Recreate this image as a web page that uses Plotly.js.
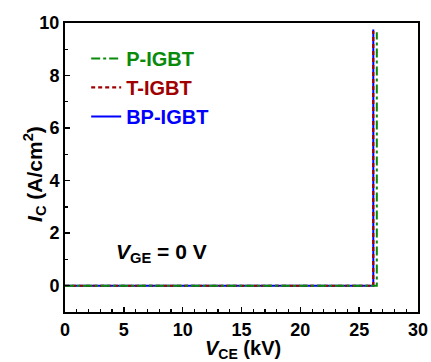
<!DOCTYPE html>
<html>
<head>
<meta charset="utf-8">
<script src="https://cdn.plot.ly/plotly-3.0.1.min.js"></script>
<style>html,body{margin:0;padding:0;background:#fff;}#chart{width:431px;height:362px;}</style>
</head>
<body>
<div id="chart"></div>
<script>
// Data (V_CE in kV, I_C in A/cm^2)
const seriesNames = ['P-IGBT', 'T-IGBT', 'BP-IGBT'];
const pVce = [0, 26.5, 26.5];
const pIc  = [0, 0, 9.65];
const tVce = [0, 26.2, 26.2];
const tIc  = [0, 0, 9.7];
const bpVce = [0, 26.2, 26.2];
const bpIc  = [0, 0, 9.75];
const xTicks = [0, 5, 10, 15, 20, 25, 30];
const yTicks = [0, 2, 4, 6, 8, 10];

const cGreen = '#0a8a0a', cRed = '#a00000', cBlue = '#0000ff';
const fam = 'Arial, Liberation Sans, sans-serif';
const font = {family: fam, size: 18, color: '#000', weight: 'bold'};
const bigFont = {family: fam, size: 21, color: '#000', weight: 'bold'};
const xTitleFont = {family: fam, size: 20, color: '#000', weight: 'bold'};

function legendName(i, c) { return '<b><span style="color:' + c + '">' + seriesNames[i] + '</span></b>'; }

const traces = [
  {x: bpVce, y: bpIc, mode: 'lines', name: legendName(2, cBlue),
   line: {color: cBlue, width: 2}, legendrank: 3},
  {x: tVce, y: tIc, mode: 'lines', name: legendName(1, cRed),
   line: {color: cRed, width: 2.2, dash: '4px,3px'}, legendrank: 2},
  {x: pVce, y: pIc, mode: 'lines', name: legendName(0, cGreen),
   line: {color: cGreen, width: 2, dash: 'dashdot'}, legendrank: 1}
];

const axisCommon = {
  showgrid: false, zeroline: false, showline: true, linecolor: '#000', linewidth: 2,
  mirror: true, ticks: 'inside', ticklen: 5, tickwidth: 1.5, tickcolor: '#000',
  tickfont: font
};

const layout = {
  width: 431, height: 362,
  margin: {l: 65, r: 13, t: 23, b: 50},
  paper_bgcolor: '#fff', plot_bgcolor: '#fff',
  font: font,
  showlegend: true,
  legend: {x: 0.06, y: 0.945, xanchor: 'left', yanchor: 'top', bgcolor: 'rgba(0,0,0,0)',
           font: {family: fam, size: 20, weight: 'bold'}, tracegroupgap: 0, itemwidth: 30},
  xaxis: Object.assign({}, axisCommon, {
    range: [0, 30], tickvals: xTicks, ticktext: xTicks.map(v => '<b>' + v + '</b>'),
    minor: {dtick: 1, ticks: 'inside', ticklen: 3, tickwidth: 1.2, tickcolor: '#000'}
  }),
  yaxis: Object.assign({}, axisCommon, {
    range: [-1, 10], tickvals: yTicks, ticktext: yTicks.map(v => '<b>' + v + '</b>'),
    minor: {dtick: 1, ticks: 'inside', ticklen: 3, tickwidth: 1.2, tickcolor: '#000'}
  }),
  annotations: [{
    x: 4.2, y: 1.25, xref: 'x', yref: 'y', xanchor: 'left', yanchor: 'middle', showarrow: false,
    text: '<b><i>V</i><sub>GE</sub> = 0 V</b>', font: bigFont
  }, {
    x: -0.088, y: 0.4775, xref: 'paper', yref: 'paper', xanchor: 'center', yanchor: 'middle',
    showarrow: false, textangle: -90,
    text: '<b><i>I</i><sub>C</sub> (A/cm<sup>2</sup>)</b>', font: bigFont
  }, {
    x: 0.504, y: -0.131, xref: 'paper', yref: 'paper', xanchor: 'center', yanchor: 'middle',
    showarrow: false,
    text: '<b><i>V</i><sub>CE</sub> (kV)</b>', font: xTitleFont
  }]
};

Plotly.newPlot('chart', traces, layout, {displayModeBar: false, staticPlot: true});
</script>
</body>
</html>
